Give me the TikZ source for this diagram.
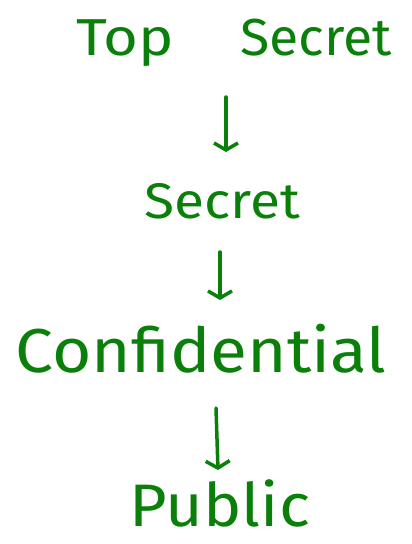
\documentclass[tikz,border=0pt]{standalone}
\usepackage{fontspec}
\setmainfont{Fira Sans}
\usetikzlibrary{arrows.meta}
\definecolor{ink}{RGB}{10,128,10}
\tikzset{
  word/.style={text=ink, anchor=base, inner sep=0pt},
  down/.style={draw=ink, line width=3.5pt, line cap=round,
    -{Straight Barb[width=24pt,length=7pt,line width=3.5pt]}}
}
\begin{document}
\begin{tikzpicture}[x=1pt,y=-1pt]
\useasboundingbox (0,0) rectangle (412,544);
\node[word, font=\fontsize{52}{60}\selectfont] (ts) at (234,55) {\scalebox{1.15}[1]{Top}\hspace{66pt}\scalebox{1.03}[1]{Secret}};
\node[word, font=\fontsize{50}{60}\selectfont] (s) at (222,218) {\scalebox{1.1}[1]{Secret}};
\node[word, font=\fontsize{62}{70}\selectfont] (c) at (201,372) {\scalebox{1.09}[1]{Confidential}};
\node[word, font=\fontsize{60}{70}\selectfont] (p) at (220,526) {\scalebox{1.08}[1]{Public}};
\coordinate (a1) at (226,97);
\coordinate (b1) at (226,152);
\coordinate (a2) at (220,252);
\coordinate (b2) at (220,300);
\coordinate (a3) at (216,408);
\coordinate (b3) at (218,470);
\draw[down] (a1) -- (b1);
\draw[down] (a2) -- (b2);
\draw[down] (a3) -- (b3);
\end{tikzpicture}
\end{document}
